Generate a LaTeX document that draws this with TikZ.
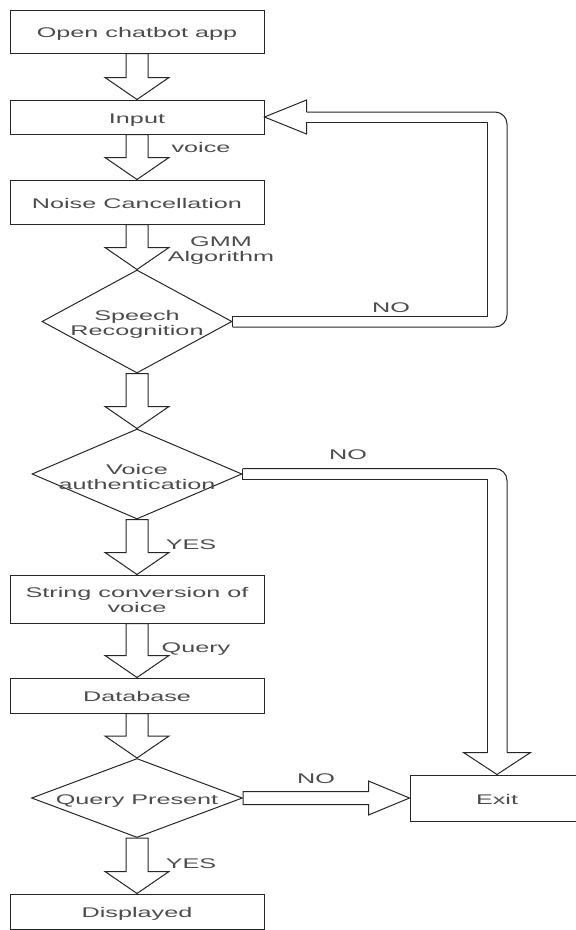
\documentclass[tikz,border=0pt]{standalone}
\usepackage{fontspec}
\usepackage{graphicx}
\setmainfont{Liberation Sans}
\usetikzlibrary{shapes.geometric,calc}

% wide-set text (the drawing is set in a horizontally stretched face),
% lowered slightly without changing the box it reports
\newcommand\widetxt[1]{\raisebox{-3pt}[\height][\depth]{\scalebox{1.8}[1]{\begin{tabular}{@{}c@{}}#1\end{tabular}}}}

% hollow block arrow pointing down, from the bottom of #1 to the top of #2
\newcommand\downflex[2]{%
  \draw[flex] ([xshift=-11pt]#1.south)
    -- ([xshift=-11pt,yshift=22pt]#2.north)
    -- ([xshift=-32pt,yshift=22pt]#2.north)
    -- (#2.north)
    -- ([xshift=32pt,yshift=22pt]#2.north)
    -- ([xshift=11pt,yshift=22pt]#2.north)
    -- ([xshift=11pt]#1.south) -- cycle;}

\begin{document}
\begin{tikzpicture}[x=1pt,y=-1pt,
  line width=1pt,
  ink/.style={draw=black!85},
  txt/.style={text=black!70, font=\fontsize{14}{15.5}\selectfont},
  box/.style={ink, txt, rectangle, inner sep=0pt, minimum width=254pt},
  decision/.style={ink, diamond, inner sep=0pt},
  lbl/.style={txt, inner sep=0pt},
  flex/.style={ink, fill=white, line join=miter},
  hollow/.style={ink, line join=miter},
]
\useasboundingbox (0,0) rectangle (576,930);

% main column
\node[box, minimum height=43pt] (open) at (137,31.5) {\widetxt{Open chatbot app}};
\node[box, minimum height=34pt] (input) at (137,117) {\widetxt{Input}};
\node[box, minimum height=44pt] (noise) at (137,202) {\widetxt{Noise Cancellation}};
\node[decision, minimum width=190pt, minimum height=103pt] (speech) at (137,321.5) {};
\node[lbl] (speechtxt) at (137,322) {\widetxt{Speech\\Recognition}};
\node[decision, minimum width=210pt, minimum height=90pt] (voice) at (137,474) {};
\node[lbl] (voicetxt) at (137,476) {\widetxt{Voice\\authentication}};
\node[box, minimum height=48pt] (string) at (137,599) {\widetxt{String conversion of\\voice}};
\node[box, minimum height=35pt] (db) at (137,695.5) {\widetxt{Database}};
\node[decision, minimum width=211pt, minimum height=79pt] (query) at (137,798) {};
\node[lbl] (querytxt) at (137,798) {\widetxt{Query Present}};
\node[box, minimum height=35pt] (disp) at (137,911.5) {\widetxt{Displayed}};
\node[box, minimum width=174pt, minimum height=46pt] (exit) at (497,798) {\widetxt{Exit}};

% connector labels
\node[lbl] (lvoice) at (201,146) {\widetxt{voice}};
\node[lbl] (lgmm) at (221,248) {\widetxt{GMM\\Algorithm}};
\node[lbl] (lno1) at (391,306) {\widetxt{NO}};
\node[lbl] (lno2) at (348,453) {\widetxt{NO}};
\node[lbl] (lyes1) at (191,543) {\widetxt{YES}};
\node[lbl] (lquery) at (196,646) {\widetxt{Query}};
\node[lbl] (lno3) at (316,777) {\widetxt{NO}};
\node[lbl] (lyes2) at (191,862) {\widetxt{YES}};

% straight block arrows down the column
\downflex{open}{input}
\downflex{input}{noise}
\downflex{noise}{speech}
\downflex{speech}{voice}
\downflex{voice}{string}
\downflex{string}{db}
\downflex{db}{query}
\downflex{query}{disp}

% return channel on the right
\coordinate (rin) at (487,0);
\coordinate (rout) at (507,0);

% speech recognition NO: back up to the input box
\draw[hollow] ([yshift=5.5pt]speech.east) -- ([yshift=-5.5pt]speech.east);
\draw[hollow] ([yshift=5.5pt]speech.east)
  -- ([yshift=5.5pt]speech.east -| rin)
  -- ([yshift=-5pt]input.east -| rin)
  -- ([xshift=42pt,yshift=-5pt]input.east);
\draw[hollow, rounded corners=12pt] ([yshift=-5.5pt]speech.east)
  -- ([yshift=-5.5pt]speech.east -| rout)
  -- ([yshift=5pt]input.east -| rout)
  -- ([xshift=42pt,yshift=5pt]input.east);
\draw[hollow] ([xshift=42pt,yshift=5pt]input.east)
  -- ([xshift=42pt,yshift=17pt]input.east)
  -- (input.east)
  -- ([xshift=42pt,yshift=-17pt]input.east)
  -- ([xshift=42pt,yshift=-5pt]input.east);

% voice authentication NO: down to exit
\draw[hollow] ([yshift=5.5pt]voice.east) -- ([yshift=-5.5pt]voice.east);
\draw[hollow, rounded corners=12pt] ([yshift=5.5pt]voice.east)
  -- ([yshift=5.5pt]voice.east -| rout)
  -- ([yshift=22pt]exit.north -| rout);
\draw[hollow] ([yshift=-5.5pt]voice.east)
  -- ([yshift=-5.5pt]voice.east -| rin)
  -- ([yshift=22pt]exit.north -| rin);
\draw[hollow] ([yshift=22pt]exit.north -| rin)
  -- ([xshift=-33.5pt,yshift=22pt]exit.north)
  -- (exit.north)
  -- ([xshift=33.5pt,yshift=22pt]exit.north)
  -- ([yshift=22pt]exit.north -| rout);

% query present NO: across to exit
\draw[flex] ([yshift=6.5pt]query.east)
  -- ([xshift=-41pt,yshift=6.5pt]exit.west)
  -- ([xshift=-41pt,yshift=17pt]exit.west)
  -- (exit.west)
  -- ([xshift=-41pt,yshift=-17pt]exit.west)
  -- ([xshift=-41pt,yshift=-6.5pt]exit.west)
  -- ([yshift=-6.5pt]query.east) -- cycle;
\end{tikzpicture}
\end{document}
